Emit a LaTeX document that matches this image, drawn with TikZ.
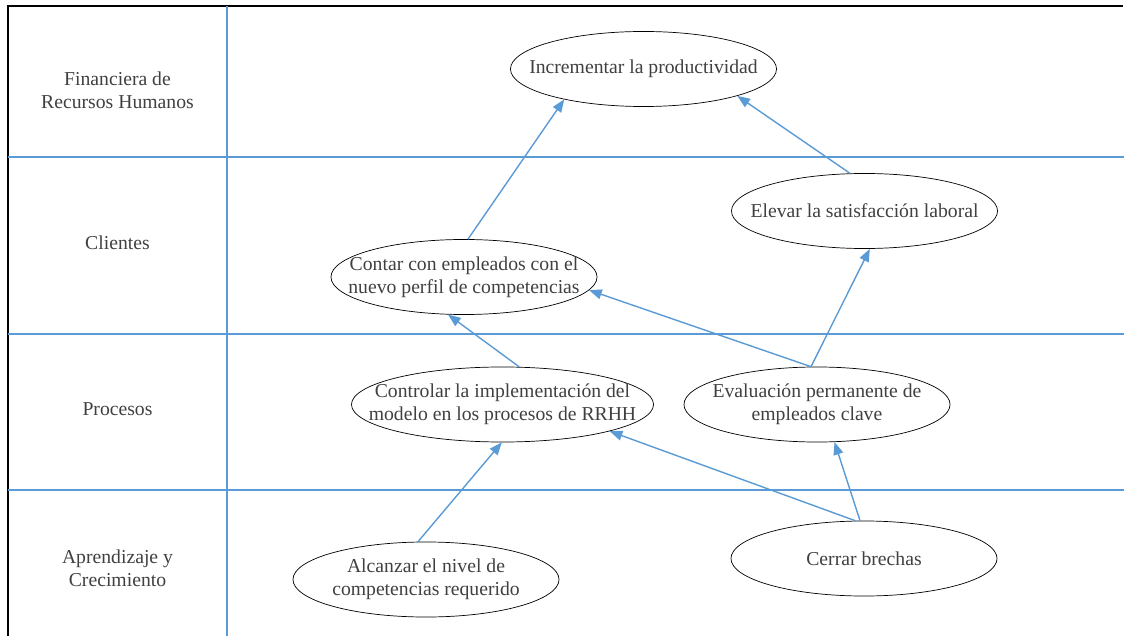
\documentclass[tikz,border=0pt]{standalone}
\usepackage{fontspec}
\setmainfont{Liberation Serif}
\usetikzlibrary{arrows.meta,shapes.geometric}
\definecolor{laneblue}{RGB}{91,155,213}
\definecolor{txtgray}{RGB}{64,64,64}

\begin{document}
\begin{tikzpicture}[x=0.025cm,y=-0.025cm,
  font=\fontsize{14}{16.5}\selectfont,
  lane/.style={align=center, text=txtgray},
  goal/.style={ellipse, draw=black, line width=0.5pt, inner sep=0pt,
    minimum width=6.65cm, minimum height=1.875cm, label={[lane]center:#1}},
  link/.style={draw=laneblue, line width=1pt, -{Triangle[length=9pt,width=7pt]}}]
% frame: pixel units, y grows downwards
\useasboundingbox (0,0) rectangle (1124,636);
\draw[line width=1pt] (8,636) -- (8,6) -- (1123,6);
\draw[laneblue, line width=1pt] (227,6) -- (227,636);
\foreach \y in {157,334,490}
  \draw[laneblue, line width=1pt] (8,\y) -- (1124,\y);
% perspective labels
\node[lane] (finan) at (117.5,90) {Financiera de\\Recursos Humanos};
\node[lane] (clien) at (117.5,243) {Clientes};
\node[lane] (proce) at (117.5,409) {Procesos};
\node[lane] (apren) at (117.5,568) {Aprendizaje y\\Crecimiento};
% objectives
\node[goal={Incrementar la productividad}] (incr) at (643.5,69) {};
\node[goal={Elevar la satisfacción laboral}] (elevar) at (864.5,211) {};
\node[goal={Contar con empleados con el\\nuevo perfil de competencias}] (contar) at (464,277) {};
\node[goal={Controlar la implementación del\\modelo en los procesos de RRHH}, minimum width=7.55cm] (control) at (502.5,404.5) {};
\node[goal={Evaluación permanente de\\empleados clave}] (evalua) at (817,404.5) {};
\node[goal={Cerrar brechas}] (cerrar) at (864,558.5) {};
\node[goal={Alcanzar el nivel de\\competencias requerido}] (alcanz) at (426,579.5) {};
% cause-effect links
\draw[link] (contar.84) -- (incr.201);
\draw[link] (elevar.111) -- (incr.344);
\draw[link] (control.66) -- (contar.247);
\draw[link] (evalua.99) -- (contar.354);
\draw[link] (evalua.99) -- (elevar.278);
\draw[link] (cerrar.103) -- (control.346);
\draw[link] (cerrar.96) -- (evalua.295);
\draw[link] (alcanz.102) -- (control.269);
\end{tikzpicture}
\end{document}
